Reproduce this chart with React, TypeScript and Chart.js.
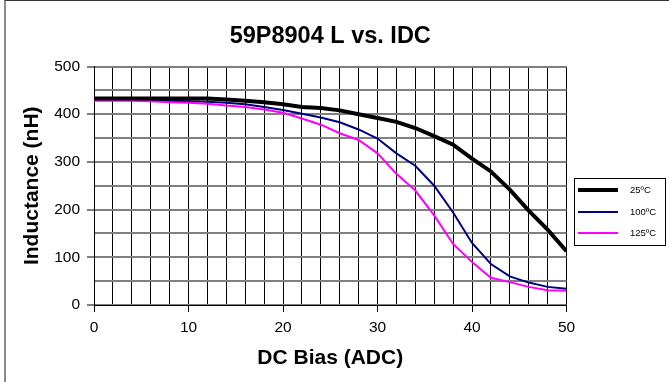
import React, { useEffect, useRef } from "react";
import { Chart, registerables } from "chart.js";

Chart.register(...registerables);

const chartTitle = "59P8904 L vs. IDC";
const xTitle = "DC Bias (ADC)";
const yTitle = "Inductance (nH)";

const currentA = [0, 2, 4, 6, 8, 10, 12, 14, 16, 18, 20, 22, 24, 26, 28, 30, 32, 34, 36, 38, 40, 42, 44, 46, 48, 50];
const ind25 = [433, 433, 433, 433, 433, 433, 433, 431, 428, 425, 421, 415, 413, 408, 400, 392, 384, 371, 354, 336, 307, 280, 242, 198, 158, 113];
const ind100 = [430, 430, 430, 429, 428, 427, 426, 424, 421, 415, 409, 401, 393, 383, 368, 349, 318, 292, 250, 194, 130, 86, 60, 47, 38, 34];
const ind125 = [428, 428, 428, 427, 425, 424, 422, 418, 415, 410, 403, 391, 378, 360, 346, 318, 275, 240, 188, 128, 90, 57, 48, 38, 31, 30];

const seriesLabels = ["25ºC", "100ºC", "125ºC"];
const seriesColors = ["#000000", "#000080", "#ff00ff"];
const seriesWidths = [4, 2, 2];

const FONT = "'Liberation Sans', Arial, Helvetica, sans-serif";

const legendPlugin = {
  id: "boxLegend",
  afterDraw(chart: any) {
    const ctx = chart.ctx;
    ctx.save();
    ctx.strokeStyle = "#000";
    ctx.lineWidth = 1;
    ctx.strokeRect(574.5, 178.5, 91, 67);
    const ys = [190, 212, 233];
    chart.data.datasets.forEach((ds: any, i: number) => {
      ctx.beginPath();
      ctx.strokeStyle = ds.borderColor;
      ctx.lineWidth = ds.borderWidth;
      ctx.moveTo(578, ys[i]);
      ctx.lineTo(618, ys[i]);
      ctx.stroke();
      ctx.fillStyle = "#000";
      ctx.font = `9.5px ${FONT}`;
      ctx.textAlign = "left";
      ctx.textBaseline = "middle";
      ctx.fillText(ds.label, 630, ys[i]);
    });
    ctx.restore();
  },
};

export default function App() {
  const ref = useRef<HTMLCanvasElement>(null);
  useEffect(() => {
    if (!ref.current) return;
    const mk = (vals: number[]) => currentA.map((x, i) => ({ x, y: vals[i] }));
    const all = [ind25, ind100, ind125];
    const chart = new Chart(ref.current, {
      type: "line",
      data: {
        datasets: all.map((vals, i) => ({
          label: seriesLabels[i],
          data: mk(vals),
          borderColor: seriesColors[i],
          backgroundColor: seriesColors[i],
          borderWidth: seriesWidths[i],
          pointRadius: 0,
          tension: 0,
          fill: false,
          order: i === 0 ? 0 : i === 1 ? 2 : 1,
        })),
      },
      options: {
        responsive: false,
        animation: false,
        devicePixelRatio: 1,
        layout: { padding: { top: 0, left: 0, right: 102.5, bottom: 0 } },
        plugins: {
          legend: { display: false },
          tooltip: { enabled: false },
          title: {
            display: true,
            text: chartTitle,
            fullSize: false,
            color: "#000",
            font: { family: FONT, size: 23.5, weight: "bold" },
            padding: { top: 22.9, bottom: 15.4 },
          },
        },
        scales: {
          x: {
            type: "linear",
            min: 0,
            max: 50,
            afterFit: (s: any) => {
              s.height = 77;
            },
            ticks: {
              stepSize: 2,
              autoSkip: false,
              maxRotation: 0,
              color: "#000",
              padding: 6,
              font: { family: FONT, size: 15.5 },
              callback: (v: any) => (Number(v) % 10 === 0 ? String(v) : ""),
            },
            grid: {
              color: "#000",
              lineWidth: 1,
              tickLength: 7,
              tickWidth: 1,
              tickColor: (c: any) => (c.tick && c.tick.value % 10 === 0 ? "#000" : "rgba(0,0,0,0)"),
            },
            border: { display: true, color: "#000", width: 1 },
            title: {
              display: true,
              text: xTitle,
              color: "#000",
              font: { family: FONT, size: 21, weight: "bold" },
              padding: { top: 0, bottom: 11 },
            },
          },
          y: {
            type: "linear",
            min: 0,
            max: 500,
            afterFit: (s: any) => {
              s.width = 94;
            },
            ticks: {
              stepSize: 50,
              autoSkip: false,
              color: "#000",
              padding: 7,
              font: { family: FONT, size: 15.5 },
              callback: (v: any) => (Number(v) % 100 === 0 ? String(v) : ""),
            },
            grid: {
              color: "#808080",
              lineWidth: 2,
              tickLength: 7,
              tickWidth: 1,
              tickColor: (c: any) => (c.tick && c.tick.value % 100 === 0 ? "#000" : "rgba(0,0,0,0)"),
            },
            border: { display: true, color: "#000", width: 1 },
            title: {
              display: true,
              text: yTitle,
              color: "#000",
              font: { family: FONT, size: 21, weight: "bold" },
              padding: { top: 20, bottom: 0 },
            },
          },
        },
      },
      plugins: [legendPlugin],
    });
    return () => chart.destroy();
  }, []);

  return (
    <div style={{ position: "absolute", left: 0, top: 0, width: 669, height: 382, background: "#fff", overflow: "hidden" }}>
      <canvas ref={ref} width={669} height={382} style={{ position: "absolute", left: 0, top: 0, width: 669, height: 382 }} />
      <div
        style={{
          position: "absolute",
          left: 4,
          top: 0,
          width: 665,
          height: 382,
          borderLeft: "2px solid #8a8a8a",
          borderTop: "1px solid #333",
          boxSizing: "border-box",
          pointerEvents: "none",
        }}
      />
    </div>
  );
}
